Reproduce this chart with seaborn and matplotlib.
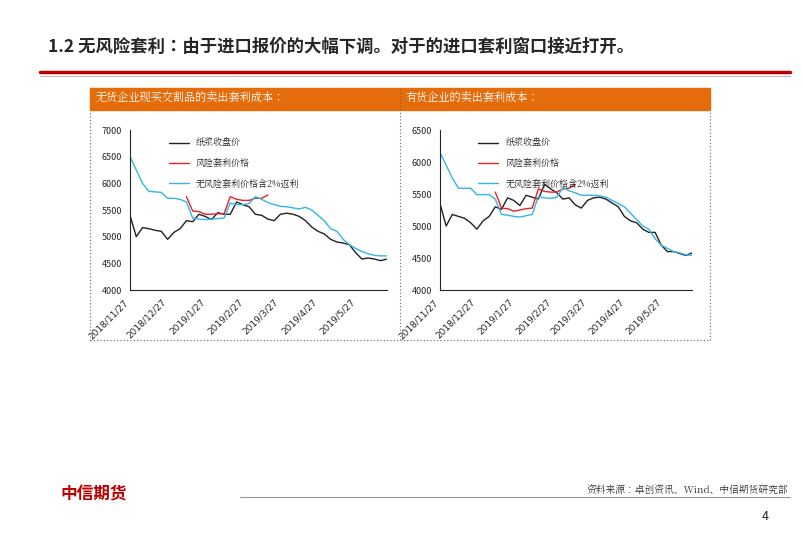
import numpy as np
import pandas as pd
import matplotlib.pyplot as plt
import seaborn as sns
from matplotlib.patches import Rectangle
from matplotlib.lines import Line2D

sns.set_style('white')
plt.rcParams['font.family'] = 'sans-serif'
plt.rcParams['font.sans-serif'] = ['Noto Sans CJK JP', 'DejaVu Sans']
plt.rcParams['axes.unicode_minus'] = False

dates = pd.date_range('2018-11-27', periods=42, freq='5D')
tick_labels = ['2018/11/27', '2018/12/27', '2019/1/27', '2019/2/27', '2019/3/27', '2019/4/27', '2019/5/27']
nan = np.nan

# 左图：无货企业
left_black = [5400, 5000, 5170, 5150, 5120, 5100, 4950, 5080, 5150, 5300, 5280, 5420, 5380, 5320,
              5450, 5420, 5420, 5650, 5600, 5560, 5420, 5400, 5330, 5300, 5420, 5440, 5420, 5380,
              5300, 5180, 5100, 5050, 4950, 4900, 4880, 4850, 4700, 4580, 4600, 4580, 4550, 4580]
left_red = [nan] * 9 + [5750, 5480, 5470, 5420, 5420, 5430, 5430, 5750, 5700, 5680, 5680, 5720,
                        5720, 5780] + [nan] * 19
left_blue = [6500, 6250, 6000, 5850, 5840, 5830, 5720, 5720, 5700, 5650, 5350, 5330, 5320, 5330,
             5340, 5350, 5630, 5600, 5600, 5620, 5750, 5700, 5640, 5600, 5570, 5560, 5540, 5520,
             5550, 5500, 5400, 5300, 5150, 5100, 4950, 4850, 4780, 4720, 4680, 4650, 4640, 4640]

# 右图：有货企业
right_black = [5350, 5000, 5180, 5150, 5120, 5050, 4950, 5080, 5150, 5300, 5260, 5440, 5400, 5320,
               5480, 5450, 5420, 5650, 5580, 5520, 5420, 5440, 5330, 5280, 5400, 5440, 5450, 5420,
               5360, 5300, 5150, 5080, 5050, 4950, 4900, 4900, 4700, 4600, 4600, 4570, 4540, 4580]
right_red = [nan] * 9 + [5530, 5280, 5270, 5230, 5250, 5270, 5280, 5580, 5540, 5530, 5530, 5580,
                         5590, 5650] + [nan] * 19
right_blue = [6150, 5950, 5750, 5590, 5590, 5590, 5490, 5490, 5490, 5420, 5180, 5170, 5150, 5140,
              5160, 5180, 5460, 5440, 5430, 5450, 5600, 5550, 5520, 5480, 5480, 5480, 5470, 5450,
              5400, 5350, 5300, 5200, 5100, 5000, 4950, 4800, 4700, 4650, 4600, 4580, 4550, 4540]

names = ['纸浆收盘价', '风险套利价格', '无风险套利价格含2%返利']
colors = ['#222222', '#e8202a', '#33b5e5']
serif = 'Noto Serif CJK JP'

fig = plt.figure(figsize=(8.02, 5.4), dpi=100)
W, H = 802, 540

def box(x, y, w, h):
    return [x / W, 1 - (y + h) / H, w / W, h / H]

# 标题与分割线
fig.text(48 / W, 1 - 47 / H, '1.2 无风险套利：由于进口报价的大幅下调。对于的进口套利窗口接近打开。',
         fontsize=12.5, fontweight='bold', va='center')
fig.add_artist(Line2D([40 / W, 790 / W], [1 - 72 / H] * 2, color='#c00000', lw=2.5))
fig.add_artist(Line2D([40 / W, 790 / W], [1 - 76 / H] * 2, color='#bbbbbb', lw=0.8))

# 虚线边框和橙色标题栏
fig.add_artist(Rectangle((90 / W, 1 - 340 / H), 620 / W, 252 / H, fill=False,
                         ls=(0, (1, 2)), ec='#666666', lw=0.8, transform=fig.transFigure))
fig.add_artist(Line2D([400 / W] * 2, [1 - 340 / H, 1 - 88 / H], color='#666666', ls=(0, (1, 2)), lw=0.8))
for x0, txt in [(90, '无货企业现买交割品的卖出套利成本：'), (400, '有货企业的卖出套利成本：')]:
    fig.add_artist(Rectangle((x0 / W, 1 - 110 / H), 310 / W, 22 / H, color='#e46c0a',
                             transform=fig.transFigure))
    fig.text((x0 + 6) / W, 1 - 99 / H, txt, fontsize=8, color='white', va='center', family=serif)

panels = [(box(130, 130, 257, 160), left_black, left_red, left_blue, 7000),
          (box(440, 130, 252, 160), right_black, right_red, right_blue, 6500)]
for rect, blk, red, blu, ymax in panels:
    ax = fig.add_axes(rect)
    df = pd.DataFrame({'date': dates, names[0]: blk, names[1]: red, names[2]: blu})
    for n, c in zip(names, colors):
        sns.lineplot(data=df, x='date', y=n, ax=ax, color=c, lw=1, label=n)
    ax.set_ylim(4000, ymax)
    ax.set_yticks(np.arange(4000, ymax + 1, 500))
    ax.set_xlim(dates[0], dates[-1])
    ax.set_xticks(pd.to_datetime(tick_labels))
    ax.set_xticklabels(tick_labels, rotation=45, ha='right', fontsize=6.5, family='DejaVu Sans')
    ax.tick_params(axis='y', labelsize=6.5, length=2)
    ax.tick_params(axis='x', length=2)
    ax.set_xlabel('')
    ax.set_ylabel('')
    for s in ['top', 'right']:
        ax.spines[s].set_visible(False)
    ax.legend(loc='upper left', bbox_to_anchor=(0.12, 1.0), frameon=False,
              prop={'family': serif, 'size': 6.5}, labelspacing=1.2, handlelength=2.2)

# 页脚
fig.add_artist(Line2D([240 / W, 790 / W], [1 - 497 / H] * 2, color='#999999', lw=0.8))
fig.text(788 / W, 1 - 491 / H, '资料来源：卓创资讯、Wind、中信期货研究部', fontsize=7,
         ha='right', va='center', color='#333333', family=serif)
fig.text(762 / W, 1 - 517 / H, '4', fontsize=9, va='center')
fig.text(60 / W, 1 - 494 / H, '中信期货', fontsize=12, color='#c00000', fontweight='bold', va='center')

fig.savefig('out.png', dpi=100)
